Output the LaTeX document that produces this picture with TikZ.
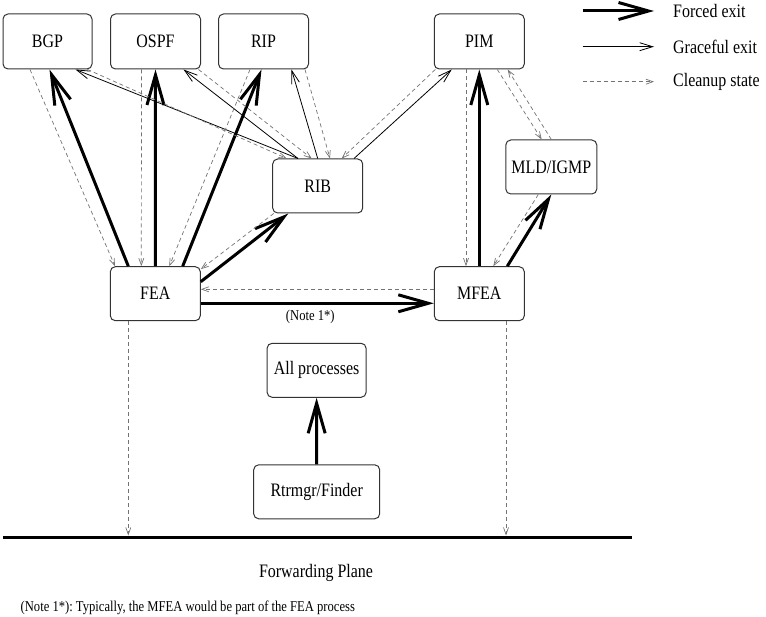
\documentclass[tikz,border=0pt]{standalone}
\usepackage{fontspec}
\setmainfont{Liberation Serif}[FakeStretch=0.84]
\usetikzlibrary{arrows.meta}
\frenchspacing
\tikzset{
  box/.style={draw=black!80, line width=1pt, rounded corners=5pt, minimum width=90pt, minimum height=55pt, inner sep=2pt, font=\fontsize{19}{20}\selectfont},
  forced/.style={line width=3pt, -{Straight Barb[length=30pt,width=17pt]}},
  graceful/.style={line width=0.8pt, -{Straight Barb[length=13pt,width=8pt]}},
  cleanup/.style={draw=black!55, line width=0.7pt, dash pattern=on 4pt off 3pt, -{Straight Barb[length=7pt,width=5pt]}},
  legtext/.style={font=\fontsize{19}{20}\selectfont, anchor=west, inner sep=0pt},
  smalltext/.style={font=\fontsize{15}{16}\selectfont, inner sep=0pt}
}
\begin{document}
\begin{tikzpicture}[x=1pt,y=-1pt]
\useasboundingbox (0,0) rectangle (766,617);

% nodes
\node[box, minimum width=89pt] (BGP) at (47.5,41.5) {BGP};
\node[box] (OSPF) at (155.5,41.5) {OSPF};
\node[box] (RIP) at (263.5,41.5) {RIP};
\node[box] (PIM) at (479.3,41.5) {PIM};
\node[box, minimum height=54pt] (RIB) at (317.7,186) {RIB};
\node[box, minimum height=54pt, minimum width=91pt] (MLD) at (551.3,167) {MLD/IGMP};
\node[box, minimum height=54pt] (FEA) at (155.3,293.7) {FEA};
\node[box, minimum height=54pt] (MFEA) at (479.3,293.7) {MFEA};
\node[box, minimum height=54pt, minimum width=99pt] (ALL) at (316.6,370.3) {All processes};
\node[box, minimum height=54pt, minimum width=126pt] (RTR) at (316.7,491.8) {Rtrmgr/Finder};

% forced exits
\draw[forced] ([xshift=-27pt]FEA.north) -- ([xshift=2pt]BGP.south);
\draw[forced] (FEA.north) -- (OSPF.south);
\draw[forced] ([xshift=27.4pt]FEA.north) -- ([xshift=-2pt]RIP.south);
\draw[forced] ([yshift=12pt]FEA.east) -- ([xshift=-29.4pt]RIB.south);
\draw[forced] ([yshift=-9.6pt]FEA.east) -- node[smalltext, below=5pt, pos=0.47] {(Note 1*)} ([yshift=-9.6pt]MFEA.west);
\draw[forced] (MFEA.north) -- (PIM.south);
\draw[forced] ([xshift=28pt]MFEA.north) -- (MLD.south);
\draw[forced] (RTR.north) -- (ALL.south);

% graceful exits
\draw[graceful] ([xshift=-19.7pt]RIB.north) -- ([xshift=28pt]BGP.south);
\draw[graceful] ([xshift=-19.7pt]RIB.north) -- ([xshift=28pt]OSPF.south);
\draw[graceful] (RIB.north) -- ([xshift=28pt]RIP.south);
\draw[graceful] ([xshift=36.3pt]RIB.north) -- ([xshift=-27.6pt]PIM.south);

% cleanup states
\draw[cleanup] ([xshift=-17.5pt]BGP.south) -- ([xshift=-40.3pt]FEA.north);
\draw[cleanup] ([xshift=-14pt]OSPF.south) -- ([xshift=-14pt]FEA.north);
\draw[cleanup] ([xshift=-13.5pt]RIP.south) -- ([xshift=14pt]FEA.north);
\draw[cleanup] ([xshift=40pt]BGP.south) -- ([xshift=-31pt]RIB.north);
\draw[cleanup] ([xshift=43pt]OSPF.south) -- ([xshift=-6pt]RIB.north);
\draw[cleanup] ([xshift=41.5pt]RIP.south) -- ([xshift=12.3pt]RIB.north);
\draw[cleanup] ([xshift=-44pt]PIM.south) -- ([xshift=24pt]RIB.north);
\draw[cleanup] ([xshift=-44pt]RIB.south) -- ([yshift=-3pt]FEA.north east);
\draw[cleanup] ([yshift=4.4pt]MFEA.west) -- ([yshift=4.4pt]FEA.east);
\draw[cleanup] ([xshift=-13.3pt]PIM.south) -- ([xshift=-13.3pt]MFEA.north);
\draw[cleanup] ([xshift=18pt]PIM.south) -- ([xshift=-9.6pt]MLD.north);
\draw[cleanup] (MLD.north) -- ([xshift=28.4pt]PIM.south);
\draw[cleanup] ([xshift=-13pt]MLD.south) -- ([xshift=14pt]MFEA.north);

% forwarding plane
\coordinate (plL) at (3,537);
\coordinate (plR) at (632,537);
\draw[line width=3pt] (plL) -- (plR);
\draw[cleanup] ([xshift=-27pt]FEA.south) -- ([xshift=-27pt,yshift=1.5pt]FEA.south |- plL);
\draw[cleanup] ([xshift=26.7pt]MFEA.south) -- ([xshift=26.7pt,yshift=1.5pt]MFEA.south |- plL);
\node[font=\fontsize{19}{20}\selectfont, inner sep=0pt] (fp) at (316,573) {Forwarding Plane};
\node[smalltext, anchor=west] (note) at (20.5,608) {(Note 1*): Typically, the MFEA would be part of the FEA process};

% legend
\coordinate (la1) at (582.7,11);  \coordinate (lb1) at (654,11);
\coordinate (la2) at (582.7,46.7); \coordinate (lb2) at (654,46.7);
\coordinate (la3) at (582.7,81.7); \coordinate (lb3) at (654,81.7);
\draw[forced] (la1) -- (lb1);
\draw[graceful] (la2) -- (lb2);
\draw[cleanup] (la3) -- (lb3);
\node[legtext] (t1) at (673,11) {Forced exit};
\node[legtext] (t2) at (673,46.7) {Graceful exit};
\node[legtext] (t3) at (673,81.7) {Cleanup state};
\end{tikzpicture}
\end{document}
